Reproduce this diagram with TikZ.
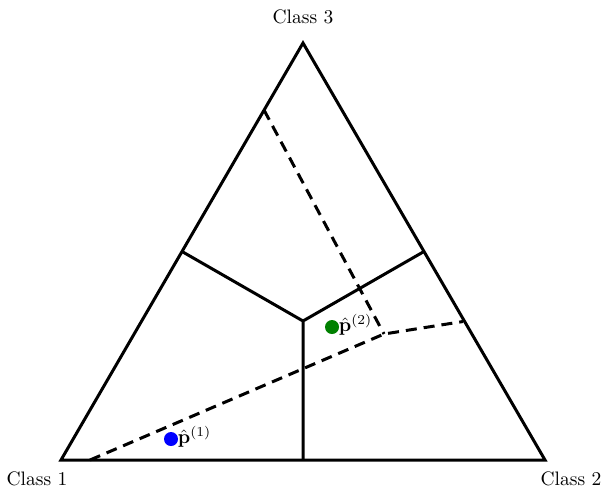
\documentclass[tikz,border=0pt]{standalone}
\begin{document}
\begin{tikzpicture}[x=1pt,y=-1pt,
  edge/.style={line width=3pt, line join=miter},
  dashline/.style={line width=3pt, dash pattern=on 11pt off 7pt},
  lbl/.style={font=\normalsize, inner sep=0pt, scale=1.95, transform shape},
  dot/.style={circle, inner sep=0pt, minimum size=14pt}]
\useasboundingbox (0,0) rectangle (601,491);
\coordinate (c1) at (61,460);
\coordinate (c2) at (545,460);
\coordinate (c3) at (303,43);
\coordinate (cen) at (303,321);
\coordinate (m12) at (303,460);
\coordinate (m13) at (182,251.5);
\coordinate (m23) at (424,251.5);
\coordinate (d1) at (90,460);
\coordinate (dj) at (384,334);
\coordinate (d2) at (463,321.5);
\coordinate (d3) at (264,110);
\draw[edge] (c1) -- (c2) -- (c3) -- cycle;
\draw[edge] (cen) -- (m12) (cen) -- (m13) (cen) -- (m23);
\draw[dashline] (d1) -- (dj) -- (d2);
\draw[dashline] (d3) -- (dj);
\node[lbl] (l3) at (303,16.5) {Class 3};
\node[lbl] (l1) at (37,479) {Class 1};
\node[lbl] (l2) at (571,479) {Class 2};
\node[dot, fill=blue] (p1) at (171,439) {};
\node[lbl, anchor=west] (t1) at (177.5,437) {$\hat{\mathbf{p}}^{(1)}$};
\node[dot, fill=green!50!black] (p2) at (332,327) {};
\node[lbl, anchor=west] (t2) at (338.5,325) {$\hat{\mathbf{p}}^{(2)}$};
\end{tikzpicture}
\end{document}
